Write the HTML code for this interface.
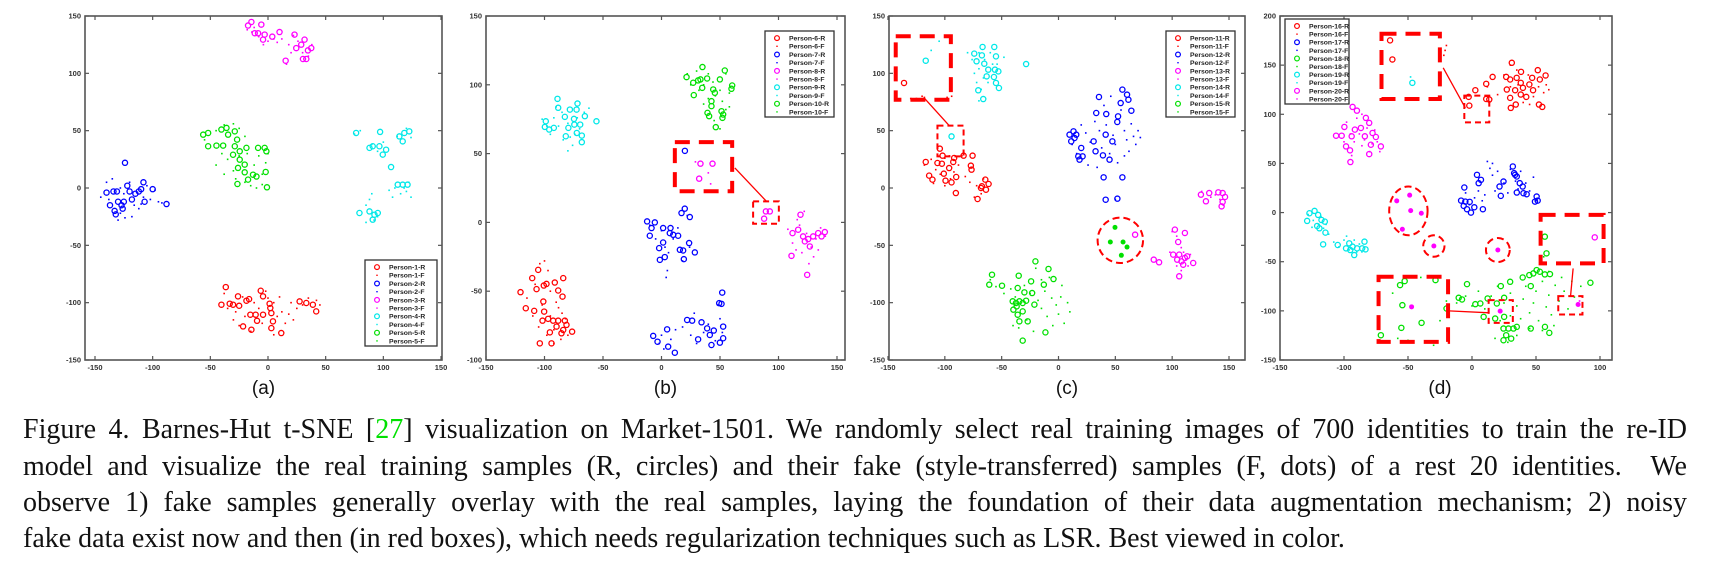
<!DOCTYPE html>
<html><head><meta charset="utf-8">
<style>
html,body{margin:0;padding:0;background:#fff;}
#wrap{position:relative;width:1709px;height:564px;overflow:hidden;background:#fff;}
svg{position:absolute;left:0;top:0;}
.cap{position:absolute;left:23px;width:1664px;font-family:"Liberation Serif",serif;font-size:28px;line-height:32px;color:#111;text-align:justify;text-align-last:justify;white-space:normal;}
.cap.last{text-align-last:left;}
.cite{color:#00e000;}
</style></head>
<body>
<div id="wrap">
<svg id="fig" width="1709" height="564" xmlns="http://www.w3.org/2000/svg"></svg>
<div class="cap" style="top:414px">Figure 4. Barnes-Hut t-SNE [<span class="cite">27</span>] visualization on Market-1501. We randomly select real training images of 700 identities to train the re-ID</div>
<div class="cap" style="top:451px">model and visualize the real training samples (R, circles) and their fake (style-transferred) samples (F, dots) of a rest 20 identities. &nbsp;We</div>
<div class="cap" style="top:487px">observe 1) fake samples generally overlay with the real samples, laying the foundation of their data augmentation mechanism; 2) noisy</div>
<div class="cap last" style="top:523px">fake data exist now and then (in red boxes), which needs regularization techniques such as LSR. Best viewed in color.</div>
</div>
<script>
// ---------- tick labels ----------
const xTicksA = [-150,-100,-50,0,50,100,150];
const yTicksA = [-150,-100,-50,0,50,100,150];
const xTicksB = [-150,-100,-50,0,50,100,150];
const yTicksB = [-100,-50,0,50,100,150];
const xTicksC = [-150,-100,-50,0,50,100,150];
const yTicksC = [-150,-100,-50,0,50,100,150];
const xTicksD = [-150,-100,-50,0,50,100];
const yTicksD = [-150,-100,-50,0,50,100,150,200];

// ---------- panel (a) ----------
const p1R = [[-36.6,-86.4],[-40.4,-101.8],[-33.2,-100.9],[-30.3,-101.8],[-26,-94.5],[-25,-102.7],[-18.7,-98.3],[-16.4,-96.9],[-15.3,-110.5],[-10.7,-110.5],[-9.5,-115.8],[-4.3,-110.5],[-6.3,-89.6],[-4.3,-94.5],[1.4,-100.9],[2,-104.7],[2.9,-109.1],[4.3,-116.3],[2.9,-122.2],[11.5,-126.5],[27.4,-98.9],[33.2,-100.3],[38.9,-101.8],[41.8,-107.6],[-21.6,-120.7],[-14.4,-123.6]];
const p1F = [[-38,-92],[-35,-105],[-28,-108],[-22,-95],[-20,-112],[-12,-100],[-8,-105],[-5,-118],[0,-96],[5,-100],[8,-112],[12,-108],[15,-118],[18,-110],[22,-115],[25,-105],[30,-102],[35,-96],[42,-98],[45,-102],[-25,-120],[-15,-125],[5,-128],[10,-95],[-30,-115],[20,-100],[-2,-90]];
const p2R = [[-140,-4],[-137,-15],[-134,-3],[-131,-3],[-133,-20],[-130,-12],[-127,-15],[-125,-12],[-124,22],[-122,2],[-120,-3],[-118,-10],[-115,-5],[-112,-3],[-110,-1],[-108,5],[-107,-12],[-100,-1],[-88,-14],[-132,-23],[-126,-18]];
const p2F = [[-145,-8],[-140,5],[-135,8],[-128,0],[-125,-5],[-120,5],[-116,-15],[-112,-18],[-108,-8],[-105,2],[-102,-10],[-98,-2],[-95,-12],[-92,-13],[-130,-28],[-124,-26],[-118,-25],[-138,-10],[-128,-22],[-110,-14]];
const p3R = [[-17.3,141.7],[-14.4,144.8],[-5.8,142.5],[-11.5,135],[-8.6,135],[-2.9,133.8],[-4.3,129.4],[3.7,132],[10,136],[23,133.8],[31.7,129.4],[28.8,125],[24.5,122],[37.5,122],[34.6,120],[30.3,112.5],[33.2,112.5],[15.3,111]];
const p3F = [[-18,138],[-12,140],[-8,132],[-4,125],[0,128],[5,130],[12,130],[18,125],[20,118],[26,128],[30,118],[35,115],[16,108],[-14,136],[22,133],[8,127],[38,125]];
const p4R = [[76.4,48],[97.2,48.9],[88,35],[90.8,36.4],[96.6,36.4],[102.4,33.4],[99.5,29.1],[106.7,18.3],[113.9,45],[118.2,48],[122.5,49.4],[116.8,40.7],[112.5,2.9],[116.8,2.9],[121,2.9],[88,-20.4],[92.3,-23.3],[90.8,-27.6],[95.2,-21.8],[79.3,-21.8]];
const p4F = [[75,47],[80,50],[90,38],[95,32],[100,40],[112,45],[120,52],[124,44],[110,0],[115,-5],[120,-3],[124,-8],[108,-8],[105,-2],[85,-15],[88,-10],[92,-28],[85,-30],[95,-25],[90,-5],[118,0],[122,5]];
const p5R = [[-56.2,46.5],[-51.9,48],[-51.9,36.4],[-44.7,37],[-38.9,37],[-40.4,51],[-36,52.4],[-34.6,46.5],[-28.8,49.4],[-26.8,42.2],[-28.8,36.4],[-24.5,32],[-18.7,35],[-30.3,29],[-24.5,24.7],[-20.2,20.4],[-26,17.5],[-20.2,13.7],[-13,11.6],[-17.3,7.3],[-26.5,3.5],[-8.6,35],[-2.9,35],[-1.4,32],[-2,14],[-0.9,0.6],[-10,10]];
const p5F = [[-55,42],[-45,50],[-38,55],[-30,56],[-25,52],[-20,45],[-40,30],[-35,25],[-30,15],[-28,8],[-20,5],[-15,2],[-10,0],[-5,3],[-2,22],[-8,28],[-18,30],[-45,20],[-38,12],[-25,28],[-12,20],[-5,12],[0,30]];

// ---------- panel (b) ----------
const p6R = [[-120.5,-50.7],[-116,-62.4],[-108.8,-64.3],[-110.5,-40.5],[-105.4,-34.5],[-106.8,-48.5],[-100.6,-45.9],[-98.3,-44.7],[-101,-57.5],[-100.3,-64.8],[-101.7,-71.4],[-96.9,-70.1],[-91.2,-43.7],[-88.3,-49.5],[-84,-40.5],[-84.6,-53.9],[-92.6,-71.4],[-88.3,-71.4],[-82.6,-71.4],[-81.2,-74.5],[-84,-78.2],[-85.5,-80.6],[-95.4,-79.9],[-76.4,-79.4],[-94,-87.9],[-89.7,-75.7],[-104,-87.9]];
const p6F = [[-115,-55],[-108,-45],[-104,-30],[-100,-28],[-97,-35],[-95,-50],[-90,-58],[-88,-62],[-85,-66],[-82,-70],[-92,-78],[-98,-82],[-86,-85],[-102,-60],[-110,-68],[-95,-68],[-80,-82],[-105,-76],[-92,-88]];
const p7R = [[-12.3,0.7],[-5.7,0],[-8.5,-4.1],[-10,-9.7],[1.4,-4.1],[7.7,-4.1],[10,-9],[14.2,-9.7],[1.4,-14.6],[-2,-18.7],[-1.4,-27.2],[2.8,-25.2],[15.7,-19.9],[18.5,-20.4],[19.1,-26.7],[23.6,-15],[28.5,-21.8],[17.1,6.8],[19.9,10],[24.2,3.9],[7.1,-7.8],[-7.1,-82.5],[4.8,-77.7],[-3.4,-86.7],[5.7,-90.3],[11.4,-94.7],[21.9,-70.9],[26.2,-71.4],[34.2,-72.6],[31.3,-85],[39,-77],[44.7,-78.6],[42.7,-89.1],[49.9,-87.4],[52.7,-75.7],[51.3,-59.2],[49.3,-58.7],[51.9,-51],[52.7,-84.2],[41.3,-81.8],[20,52]];
const p7F = [[-10,-2],[-5,-12],[0,-6],[3,-18],[6,-22],[10,-12],[14,-4],[18,-28],[24,-18],[5,-35],[4,-40],[22,5],[0,-82],[2,-92],[8,-85],[18,-76],[25,-82],[30,-88],[36,-80],[40,-74],[46,-86],[50,-70],[52,-80],[28,-66],[48,-60],[12,-78],[-2,-88]];
const p8R = [[118.8,5.6],[112,-7.8],[116.8,-5.3],[111.1,-24.3],[121,-10.2],[122.5,-13.8],[126.8,-17.5],[129.6,-10.2],[133.9,-7.8],[139.6,-7],[136.8,-10.2],[124.5,-38.1],[125.4,-12.1],[87.7,2.7],[89.2,8],[92.6,8],[33.3,42.7],[43.6,42.7],[32.2,31.8]];
const p8F = [[108,-5],[112,-15],[115,-20],[118,-2],[120,-22],[124,-8],[128,-18],[130,-25],[132,-12],[136,-4],[140,-10],[122,8],[126,-30],[116,2],[134,-20],[29,44],[40,36],[42,28]];
const p9R = [[-88.9,89.8],[-88.3,83.3],[-98.9,73.5],[-99.7,69.4],[-96,67.5],[-92,68.7],[-82.6,76.7],[-78.3,82],[-72.6,82],[-71.8,86.4],[-65.5,77.2],[-74.8,75.2],[-79.6,68.7],[-74.5,71.1],[-69.5,71.1],[-72.4,65],[-68.1,63.1],[-68.1,58.3],[-81.8,62.6],[-55.6,73.5]];
const p9F = [[-102,75],[-98,70],[-95,64],[-92,76],[-88,70],[-85,80],[-80,72],[-78,62],[-76,56],[-72,76],[-70,68],[-66,80],[-62,83],[-80,52],[-90,84],[-84,60],[-74,64]];
const p10R = [[35,112.9],[21.4,105.6],[27.1,101.5],[31.3,103.2],[33.3,103.9],[39,104.6],[49.9,103.9],[54.1,110.4],[60.4,99.5],[59.8,97.1],[34.8,97.8],[27.6,92.5],[44.2,96.6],[45.6,94.2],[42.7,88.1],[42.7,84.5],[39.3,79.6],[40.7,77.2],[51.3,80.8],[52.7,78.4],[52.1,76],[46.4,69.2]];
const p10F = [[22,108],[25,100],[30,110],[32,96],[36,100],[40,108],[44,102],[46,92],[50,96],[52,88],[55,108],[58,94],[40,90],[45,74],[55,82],[50,68],[36,86],[58,84]];

// ---------- panel (c) ----------
const p11R = [[-116.8,22.7],[-113.8,10.8],[-110.9,7.3],[-106.5,21.8],[-104.4,34.3],[-102.6,21.2],[-102,28.2],[-96.2,17.4],[-92.6,22.7],[-91.8,26.2],[-100.9,12.5],[-99.4,6.4],[-94.1,4.9],[-90,9.6],[-90.3,-4.4],[-83.5,28.2],[-75.6,28.2],[-76.5,16],[-77.1,19.5],[-71.2,-9.6],[-68.2,0],[-64.4,7.3],[-61.5,3.5],[-63.8,-1.5],[-67.4,1.5],[-135.9,91.6]];
const p11F = [[-118,20],[-112,25],[-108,16],[-104,12],[-100,26],[-96,28],[-95,8],[-92,14],[-88,20],[-85,28],[-82,10],[-78,5],[-74,-8],[-72,2],[-68,-5],[-66,8],[-110,4],[-100,2],[-130,78],[-120,80],[-125,78],[-118,79],[-98,79],[-94,80]];
const p12R = [[9.7,46.5],[11.2,40.7],[13.2,49.4],[15.6,46.5],[14.1,43.6],[17.4,27.6],[20,34.9],[18.5,24.7],[21.2,27.6],[30.9,40.7],[32.6,32],[35.6,79.4],[33.2,65.4],[42,64.5],[41.5,46.5],[39.1,28.5],[44.9,24.7],[47.4,40.7],[52.4,62.5],[51.7,57.6],[54.7,74.1],[56.2,85.8],[60.3,81.4],[61.5,77],[64.1,67.4],[39.7,9.3],[56.2,9.3],[41.5,-10.2],[51.8,-9.3]];
const p12F = [[12,38],[16,30],[20,55],[24,48],[28,40],[32,58],[36,50],[38,35],[40,72],[42,55],[45,30],[48,46],[50,38],[52,22],[55,68],[58,50],[60,42],[62,32],[64,56],[66,45],[68,38],[70,50],[72,44],[46,80],[34,18],[26,20],[58,28],[50,-10]];
const p13R = [[125.3,-5.8],[132.6,-4.4],[129.7,-11.6],[140.6,-3.8],[144.4,-4.4],[146.5,-7.8],[144.4,-12.2],[143.5,-16],[102.4,-36.3],[111.2,-39.2],[105.3,-47.1],[100.9,-58.1],[106.2,-58.1],[104.4,-62.5],[108.2,-64],[111.2,-61],[109.7,-66.9],[118.5,-65.4],[106.2,-77],[83.8,-62.5],[88.5,-64.8],[67.4,-40.7],[113.2,-59.6]];
const p13F = [[126,-3],[134,-8],[138,-6],[142,-10],[145,-15],[100,-38],[104,-42],[108,-52],[110,-56],[112,-62],[114,-68],[116,-58],[104,-68],[108,-72],[98,-56]];
const p14R = [[-74.1,117.2],[-66.8,123],[-56.5,123],[-55,114.8],[-72.1,110.5],[-65.3,108.4],[-61.8,103.2],[-63.2,97.4],[-55.9,103.2],[-52.9,101.7],[-56.8,96.8],[-55,91.6],[-52.4,87.2],[-70.6,85.2],[-66.2,77.6],[-28.5,108.1],[-67.4,115.7],[-116.8,111],[-94.1,45]];
const p14F = [[-80,118],[-76,112],[-70,118],[-65,112],[-60,118],[-58,108],[-70,104],[-66,96],[-62,92],[-74,100],[-72,92],[-68,86],[-70,76],[-54,108],[-48,114],[-112,120],[-105,128]];
const p15R = [[-20.3,-64],[-8.8,-70.6],[-4.4,-79.4],[-24.1,-81.4],[-35,-76.5],[-58.5,-75.6],[-60.9,-84.3],[-49.7,-85.2],[-30,-91],[-23.2,-91.6],[-12.9,-84.3],[-35.9,-87.2],[-40.3,-98.8],[-37.4,-100.3],[-34.4,-98.8],[-31.5,-100.3],[-28.5,-98.3],[-21.2,-101.7],[-39.7,-106.1],[-35.9,-110.5],[-31.5,-107.6],[-34.4,-116.3],[-27.1,-116.3],[-11.5,-125.9],[-31.5,-133.1],[-36.8,-103.2]];
const p15F = [[-60,-80],[-55,-86],[-48,-92],[-42,-88],[-38,-95],[-30,-85],[-25,-92],[-20,-70],[-18,-98],[-15,-105],[-12,-90],[-10,-112],[-6,-96],[-5,-120],[-2,-102],[0,-110],[2,-95],[5,-118],[8,-100],[10,-108],[-28,-115],[-22,-125],[-35,-122],[-40,-120],[-15,-80],[-8,-78],[3,-85]];
const cSolid = [[49.7,-34.3],[45.6,-47.1],[56.8,-47.1],[60.3,-51.5],[55.3,-58.7]];

// ---------- panel (d) ----------
const p16R = [[11.1,131],[16.1,138],[2.6,124.5],[-2.6,117.7],[-2.1,108.8],[11.1,115.6],[13.5,115],[26.7,138],[29.8,135.4],[31.1,152.4],[27.2,125.2],[29.8,116.7],[30.3,106.5],[34.2,109.9],[34.9,137.1],[38.3,143.2],[38.1,132],[38.1,120.1],[33.7,124.5],[39.8,126.9],[42.4,117.7],[47,137.1],[47.7,124.5],[51.4,144.9],[53,135.4],[57.5,139.5],[52.3,109.9],[54.9,107.5],[44.8,130.3],[-64,175.2],[-62.2,155.8]];
const p16F = [[12,128],[20,120],[25,140],[30,128],[35,145],[40,112],[44,140],[48,118],[52,128],[56,122],[58,130],[60,125],[36,130],[-20,170],[-21,165],[-22,160],[30,150],[45,110]];
const p17R = [[-6,25.5],[-8.5,12.2],[-5.2,11.2],[-1.8,10.9],[-6.5,6.8],[-3.9,3.4],[-0.8,0],[1.8,5.4],[8.5,3.4],[3.9,38.4],[7,33.3],[5.2,29.9],[24.6,31.6],[22.5,17],[21.5,26.5],[31.9,46.9],[32.9,40.1],[35,36.7],[33.7,38.4],[37.3,29.9],[39.6,26.5],[35,20.4],[42.7,18.7],[50.5,16.3],[51.3,12.2],[49.2,11.2],[40.2,19.7]];
const p17F = [[-5,20],[-2,8],[2,15],[5,22],[8,12],[10,18],[14,45],[16,38],[18,22],[20,42],[25,30],[28,20],[30,44],[34,32],[36,24],[38,42],[42,30],[45,22],[48,36],[50,12],[12,52],[16,50]];
const p18R = [[39.6,-66],[44.8,-63.6],[47.9,-61.9],[50.5,-58.5],[53,-60.2],[56.9,-62.9],[60.9,-62.6],[29.8,-70.4],[22.5,-74.8],[45.9,-74.8],[-3.9,-72.8],[-10.4,-86.7],[-7.8,-88.4],[2.6,-93.2],[6.5,-92.5],[12.2,-87.4],[19.4,-92.5],[25.1,-86.7],[9.1,-106.1],[18.1,-107.8],[25.1,-106.1],[24.6,-118],[28.5,-118],[32.4,-118],[35,-116.3],[26.7,-124.8],[30.6,-128.2],[24.6,-129.9],[45.9,-118],[57,-116.3],[60.4,-122.4],[92.5,-71.4],[56.9,-24.5],[58.2,-41.5],[-56.2,-73.8],[-52.6,-69.7],[-28.5,-68.7],[-54.4,-94.2],[-55.2,-117.3],[-39.4,-112.2],[-71.2,-124.8],[-19.9,-97.6]];
const p18F = [[-20,-90],[-12,-92],[-5,-85],[0,-95],[5,-80],[10,-98],[15,-85],[20,-75],[25,-92],[30,-82],[35,-95],[40,-88],[42,-75],[45,-102],[48,-92],[50,-80],[52,-110],[55,-70],[58,-96],[60,-84],[62,-104],[65,-74],[68,-90],[70,-66],[72,-80],[75,-98],[78,-70],[80,-86],[38,-108],[30,-105],[45,-118],[55,-120],[64,-115],[22,-110],[18,-128],[28,-132],[35,-125],[60,-60],[54,-30],[56,-45],[-70,-66],[-62,-82],[-58,-128],[-50,-130],[-30,-135],[-25,-110],[-40,-66],[85,-75]];
const p19R = [[-127,-0.7],[-123,1.7],[-128.8,-8.5],[-120.2,-2.4],[-117.6,-7.5],[-115,-9.2],[-119.2,-16],[-121,-13.6],[-114.5,-20.4],[-116.3,-32.3],[-104.9,-33],[-95.9,-31.3],[-93.3,-34.7],[-92,-43.2],[-89.8,-36.4],[-85.8,-36.4],[-83.2,-37.4],[-84,-29.6],[-95.1,-38.1],[-98.4,-36.4],[-46.6,132]];
const p19F = [[-128,-2],[-124,-8],[-120,-12],[-118,-4],[-116,-16],[-114,-12],[-112,-22],[-108,-30],[-104,-35],[-100,-28],[-96,-38],[-92,-28],[-90,-40],[-88,-32],[-86,-40],[-98,-24],[-125,-15],[-48,138]];
const p20R = [[-93.3,107.5],[-89.9,103.7],[-99.7,87.1],[-106.2,78.2],[-101.8,78.2],[-98.4,67.3],[-95.3,63.3],[-94,77.6],[-91.5,84.4],[-86.8,86.1],[-83.7,77.6],[-80.3,91.2],[-77.7,81],[-75.1,76.9],[-79,69],[-71.2,67.3],[-80.3,59.5],[-95,51.4],[-82.9,96.3],[95.9,-25.2]];
const p20F = [[-98,92],[-95,80],[-92,72],[-90,96],[-88,80],[-86,68],[-84,74],[-82,86],[-80,62],[-78,70],[-76,84],[-74,72],[-72,62],[-100,72],[-94,58],[-86,100],[84,-90]];
const dSolid = [[-58.8,11.9],[-48.7,17.7],[-47.9,2],[-39.6,-0.7],[-54.4,-17],[-29.8,-34],[20.2,-38.1],[22,-100.3],[-47.2,-95.9],[82.9,-93.5]];

const RED='#ff0000', BLUE='#0000ff', MAG='#ff00ff', CYAN='#00e8e8', GREEN='#00e000';
const COLORS_ABC = [RED,BLUE,MAG,CYAN,GREEN];
const COLORS_D = [RED,BLUE,GREEN,CYAN,MAG];
const NS = 'http://www.w3.org/2000/svg';
const svg = document.getElementById('fig');
function mk(tag, attrs, parent){ const e=document.createElementNS(NS,tag); for(const k in attrs) e.setAttribute(k,attrs[k]); (parent||svg).appendChild(e); return e; }

const panels = [
 {key:'a', label:'(a)', L:85,R:442,T:16,B:360, xd:[-150,150], xp:[95,441], yd:[-150,150], yp:[360,16], xt:xTicksA, yt:yTicksA, colors:COLORS_ABC,
  series:[[p1R,p1F],[p2R,p2F],[p3R,p3F],[p4R,p4F],[p5R,p5F]], first:1, leg:{x:365,y:260,w:72,h:86}},
 {key:'b', label:'(b)', L:486,R:845,T:16,B:360, xd:[-150,150], xp:[486,837], yd:[-100,150], yp:[360,16], xt:xTicksB, yt:yTicksB, colors:COLORS_ABC,
  series:[[p6R,p6F],[p7R,p7F],[p8R,p8F],[p9R,p9F],[p10R,p10F]], first:6, leg:{x:765,y:31,w:69,h:86}},
 {key:'c', label:'(c)', L:889,R:1245,T:16,B:360, xd:[-150,150], xp:[888,1229], yd:[-150,150], yp:[360,16], xt:xTicksC, yt:yTicksC, colors:COLORS_ABC,
  series:[[p11R,p11F],[p12R,p12F],[p13R,p13F],[p14R,p14F],[p15R,p15F]], first:11, leg:{x:1166,y:31,w:69,h:86}, solid:cSolid, solidColor:GREEN},
 {key:'d', label:'(d)', L:1280,R:1612,T:16,B:360, xd:[-150,100], xp:[1280,1600], yd:[-150,200], yp:[360,16], xt:xTicksD, yt:yTicksD, colors:COLORS_D,
  series:[[p16R,p16F],[p17R,p17F],[p18R,p18F],[p19R,p19F],[p20R,p20F]], first:16, leg:{x:1285,y:19,w:64,h:85}, solid:dSolid, solidColor:MAG}
];

const annotations = {
 b:[{t:'rect',x0:11.4,x1:60.4,y0:22.6,y1:58.3,big:true},{t:'rect',x0:78.3,x1:100.3,y0:-1,y1:15.3},{t:'line',x0:62.7,y0:39.6,x1:89.7,y1:15.3}],
 c:[{t:'rect',x0:-143.2,x1:-94.7,y0:77,y1:132.3,big:true},{t:'rect',x0:-106.5,x1:-83.5,y0:27.6,y1:54.4},{t:'line',x0:-118.2,y0:78.5,x1:-96.2,y1:54.4},{t:'ell',cx:54.4,cy:-45.6,rx:20,ry:19.8}],
 d:[{t:'rect',x0:-70.7,x1:-25.1,y0:115.6,y1:182,big:true},{t:'rect',x0:-6,x1:13.5,y0:91.8,y1:119},{t:'line',x0:-22.5,y0:147.3,x1:-5.2,y1:106.5},
    {t:'ell',cx:-49.7,cy:1.7,rx:15,ry:24.8},{t:'ell',cx:-29.8,cy:-34,rx:8.3,ry:10.9},{t:'ell',cx:20.2,cy:-38.1,rx:9.3,ry:12.2},
    {t:'rect',x0:53.6,x1:102.8,y0:-51.7,y1:-2.4,big:true},{t:'rect',x0:67.4,x1:86.3,y0:-103.7,y1:-85},{t:'line',x0:79,y0:-56.8,x1:77,y1:-85},
    {t:'rect',x0:-73,x1:-18.7,y0:-131.6,y1:-65.3,big:true},{t:'rect',x0:13,x1:31.9,y0:-112.2,y1:-89.1},{t:'line',x0:-18.1,y0:-100,x1:13.7,y1:-102}]
};

panels.forEach(P=>{
  const sx = v => P.xp[0] + (v-P.xd[0])*(P.xp[1]-P.xp[0])/(P.xd[1]-P.xd[0]);
  const sy = v => P.yp[0] + (v-P.yd[0])*(P.yp[1]-P.yp[0])/(P.yd[1]-P.yd[0]);
  const g = mk('g',{});
  
  
  const frame = mk('rect',{x:P.L,y:P.T,width:P.R-P.L,height:P.B-P.T,fill:'none',stroke:'#555','stroke-width':1.6},g);
  
  
  P.xt.forEach(v=>{
    const x=sx(v);
    const t1=mk('line',{x1:x,x2:x,y1:P.B,y2:P.B-4,stroke:'#555','stroke-width':1.2},g);
    
    
    const t2=mk('line',{x1:x,x2:x,y1:P.T,y2:P.T+4,stroke:'#555','stroke-width':1.2},g);
    
    
    const tl=mk('text',{x:x,y:P.B+10,'font-size':7.5,'font-family':'Liberation Sans, sans-serif','font-weight':'bold','text-anchor':'middle',fill:'#333'},g);
    tl.textContent=v;
    
    
  });
  P.yt.forEach(v=>{
    const y=sy(v);
    const t1=mk('line',{x1:P.L,x2:P.L+4,y1:y,y2:y,stroke:'#555','stroke-width':1.2},g);
    
    
    const t2=mk('line',{x1:P.R,x2:P.R-4,y1:y,y2:y,stroke:'#555','stroke-width':1.2},g);
    
    
    const tl=mk('text',{x:P.L-4,y:y+2.5,'font-size':7.5,'font-family':'Liberation Sans, sans-serif','font-weight':'bold','text-anchor':'end',fill:'#333'},g);
    tl.textContent=v;
    
    
  });
  P.series.forEach((s,i)=>{
    const c=P.colors[i];
    s[1].forEach(p=>{
      const d=mk('rect',{x:sx(p[0])-0.8,y:sy(p[1])-0.8,width:1.6,height:1.6,fill:c},g);
      
      
    });
    s[0].forEach(p=>{
      const d=mk('circle',{cx:sx(p[0]),cy:sy(p[1]),r:2.6,fill:'none',stroke:c,'stroke-width':1.3},g);
      
      
    });
  });
  if(P.solid){
    P.solid.forEach(p=>{
      const d=mk('circle',{cx:sx(p[0]),cy:sy(p[1]),r:2.5,fill:P.solidColor},g);
      
      
    });
  }
  (annotations[P.key]||[]).forEach(a=>{
    let e;
    if(a.t==='rect'){
      const x=sx(a.x0), y=sy(a.y1), w=sx(a.x1)-x, h=sy(a.y0)-y;
      e=mk('rect',{x:x,y:y,width:w,height:h,fill:'none',stroke:'#ff0000','stroke-width':a.big?4:2,'stroke-dasharray':a.big?'15,9':'6,4'},g);
      
    } else if(a.t==='line'){
      e=mk('line',{x1:sx(a.x0),y1:sy(a.y0),x2:sx(a.x1),y2:sy(a.y1),stroke:'#ff0000','stroke-width':1.3},g);
      
    } else {
      const rx=Math.abs(sx(a.cx+a.rx)-sx(a.cx)), ry=Math.abs(sy(a.cy+a.ry)-sy(a.cy));
      e=mk('ellipse',{cx:sx(a.cx),cy:sy(a.cy),rx:rx,ry:ry,fill:'none',stroke:'#ff0000','stroke-width':2,'stroke-dasharray':'7,4'},g);
      
    }
    
  });
  const L=P.leg;
  const lg=mk('g',{},g);
  
  
  mk('rect',{x:L.x,y:L.y,width:L.w,height:L.h,fill:'#fff',stroke:'#333','stroke-width':1.3},lg);
  const rowH=(L.h-4)/10;
  for(let i=0;i<10;i++){
    const pi=Math.floor(i/2), isR=i%2===0, c=P.colors[pi];
    const y=L.y+3+rowH*(i+0.5);
    if(isR){ mk('circle',{cx:L.x+12,cy:y,r:2.4,fill:'none',stroke:c,'stroke-width':1.2},lg); }
    else { mk('rect',{x:L.x+11.3,y:y-0.7,width:1.4,height:1.4,fill:c},lg); }
    const t=mk('text',{x:L.x+24,y:y+2.4,'font-size':6.8,'font-family':'Liberation Sans, sans-serif','font-weight':'bold',fill:'#222'},lg);
    t.textContent='Person-'+(P.first+pi)+'-'+(isR?'R':'F');
    
    
  }
  const lab=mk('text',{x:(P.L+P.R)/2+ (P.key==='d'?-6:0),y:394,'font-size':19,'font-family':'Liberation Sans, sans-serif','text-anchor':'middle',fill:'#111'},g);
  lab.textContent=P.label;
  
  
});
</script>
</body></html>
